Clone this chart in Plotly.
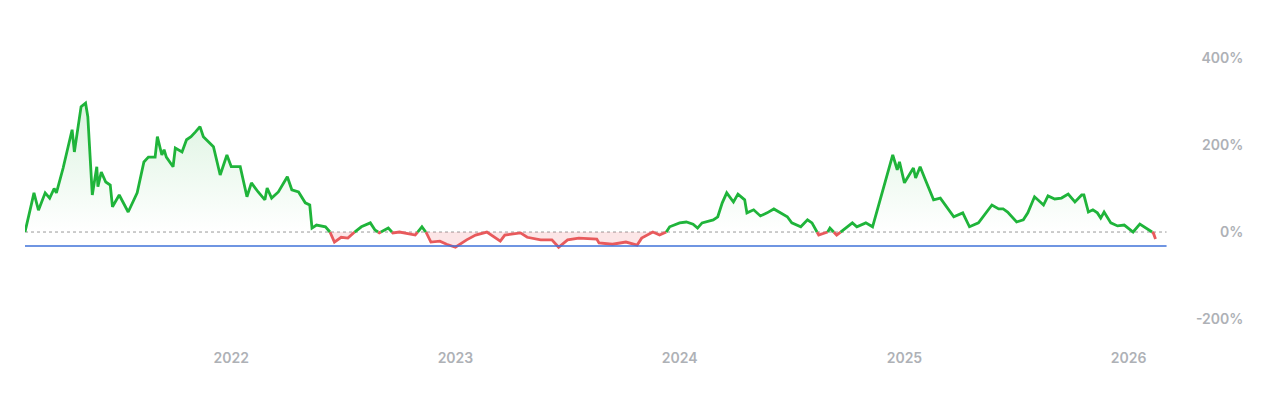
import pandas as pd
import numpy as np
import plotly.graph_objects as go

years = [2021.08, 2021.09, 2021.11, 2021.12, 2021.14, 2021.17, 2021.19, 2021.21, 2021.22, 2021.25,
         2021.29, 2021.30, 2021.33, 2021.35, 2021.36, 2021.38, 2021.40, 2021.405, 2021.42, 2021.44,
         2021.46, 2021.47, 2021.50, 2021.54, 2021.58, 2021.61, 2021.63, 2021.66, 2021.67, 2021.69,
         2021.70, 2021.71, 2021.74, 2021.75, 2021.78, 2021.80, 2021.82, 2021.84, 2021.86, 2021.875,
         2021.89, 2021.92, 2021.95, 2021.98, 2022.00, 2022.04, 2022.07, 2022.09, 2022.12, 2022.15,
         2022.16, 2022.18, 2022.21, 2022.25, 2022.27, 2022.30, 2022.33, 2022.35, 2022.36, 2022.38,
         2022.42, 2022.44, 2022.46, 2022.49, 2022.52, 2022.55, 2022.58, 2022.62, 2022.64, 2022.66,
         2022.70, 2022.72, 2022.75, 2022.79, 2022.82, 2022.85, 2022.87, 2022.89, 2022.93, 2022.96,
         2023.00, 2023.05, 2023.09, 2023.14, 2023.20, 2023.22, 2023.29, 2023.32, 2023.38, 2023.43,
         2023.46, 2023.50, 2023.55, 2023.63, 2023.64, 2023.70, 2023.76, 2023.81, 2023.83, 2023.88,
         2023.91, 2023.94, 2023.955, 2024.00, 2024.03, 2024.06, 2024.08, 2024.10, 2024.15, 2024.17,
         2024.19, 2024.21, 2024.24, 2024.26, 2024.29, 2024.30, 2024.33, 2024.36, 2024.39, 2024.42,
         2024.45, 2024.48, 2024.50, 2024.54, 2024.57, 2024.59, 2024.62, 2024.66, 2024.67, 2024.70,
         2024.73, 2024.77, 2024.79, 2024.83, 2024.86, 2024.89, 2024.92, 2024.95, 2024.97, 2024.98,
         2025.00, 2025.02, 2025.04, 2025.05, 2025.07, 2025.09, 2025.13, 2025.16, 2025.19, 2025.22,
         2025.26, 2025.29, 2025.33, 2025.35, 2025.39, 2025.42, 2025.44, 2025.46, 2025.50, 2025.53,
         2025.55, 2025.58, 2025.62, 2025.64, 2025.67, 2025.70, 2025.73, 2025.76, 2025.79, 2025.80,
         2025.82, 2025.84, 2025.86, 2025.875, 2025.89, 2025.92, 2025.95, 2025.98, 2026.02, 2026.05,
         2026.08, 2026.11, 2026.12]
change = [0, 20, 67, 90, 50, 90, 78, 100, 90, 147,
          235, 184, 288, 296, 265, 85, 150, 104, 138, 115,
          108, 58, 85, 46, 90, 161, 172, 172, 219, 177,
          189, 172, 150, 193, 184, 212, 219, 230, 242, 219,
          212, 196, 131, 177, 150, 150, 81, 113, 92, 74,
          101, 78, 92, 127, 97, 92, 67, 62, 9, 16,
          12, 0, -23, -12, -14, 0, 12, 21, 5, -2,
          9, -2, 0, -5, -7, 12, -2, -23, -21, -28,
          -35, -18, -7, 0, -21, -7, -2, -12, -18, -18,
          -35, -18, -14, -16, -25, -28, -23, -30, -14, 0,
          -7, 0, 12, 21, 23, 18, 9, 21, 28, 35,
          67, 90, 69, 87, 74, 44, 51, 37, 44, 53,
          44, 35, 21, 12, 28, 21, -7, 0, 9, -7,
          5, 21, 12, 21, 12, 67, 120, 177, 143, 161,
          113, 131, 147, 124, 150, 124, 74, 78, 55, 35,
          44, 12, 21, 35, 62, 53, 53, 46, 23, 28,
          44, 81, 62, 83, 76, 78, 87, 69, 85, 85,
          46, 51, 44, 32, 46, 21, 14, 16, 0, 18,
          9, -2, -16]
low_line = -32

GREEN = "#1fb43a"
RED = "#e85a5c"


def to_date(y):
    base = pd.Timestamp(int(y), 1, 1)
    return base + pd.Timedelta(days=(y - int(y)) * 365.25)


# insert zero crossings so the colour switches exactly at 0%
xs, vs = [], []
for i, (y, v) in enumerate(zip(years, change)):
    if i > 0:
        y0, v0 = years[i - 1], change[i - 1]
        if (v0 > 0 and v < 0) or (v0 < 0 and v > 0):
            xs.append(y0 + (y - y0) * v0 / (v0 - v))
            vs.append(0)
    xs.append(y)
    vs.append(v)
dates = [to_date(y) for y in xs]
vs = np.array(vs, dtype=float)

pos_line = [v if v >= 0 else None for v in vs]
neg_line = [v if v <= 0 else None for v in vs]

fig = go.Figure()
fig.add_trace(go.Scatter(x=dates, y=np.maximum(vs, 0), mode="lines", line=dict(width=0),
                         fill="tozeroy",
                         fillgradient=dict(type="vertical", start=0, stop=300,
                                           colorscale=[[0, "rgba(31,180,58,0.0)"],
                                                       [1, "rgba(31,180,58,0.16)"]]),
                         hoverinfo="skip"))
fig.add_trace(go.Scatter(x=dates, y=np.minimum(vs, 0), mode="lines", line=dict(width=0),
                         fill="tozeroy", fillcolor="rgba(232,90,92,0.15)", hoverinfo="skip"))
fig.add_trace(go.Scatter(x=dates, y=neg_line, mode="lines", line=dict(color=RED, width=2.8)))
fig.add_trace(go.Scatter(x=dates, y=pos_line, mode="lines", line=dict(color=GREEN, width=2.8)))

x0, x1 = to_date(2021.08), to_date(2026.17)
fig.add_shape(type="line", x0=x0, x1=x1, y0=0, y1=0, xref="x", yref="y",
              line=dict(color="#999999", width=1, dash="dot"), layer="below")
fig.add_shape(type="line", x0=x0, x1=x1, y0=low_line, y1=low_line, xref="x", yref="y",
              line=dict(color="#3f72d8", width=1.5), layer="above")

tick_font = dict(size=14, color="#aeb1b6", weight=600)
fig.update_layout(
    width=1280, height=416, showlegend=False,
    plot_bgcolor="white", paper_bgcolor="white",
    margin=dict(l=17, r=0, t=12, b=84),
    font=dict(family="Inter, Lato, sans-serif"),
    xaxis=dict(range=[x0, x1], domain=[0, 0.904], showgrid=False, zeroline=False,
               tickvals=[pd.Timestamp(y, 1, 1) for y in [2022, 2023, 2024, 2025, 2026]],
               ticktext=["2022", "2023", "2024", "2025", "2026"],
               tickfont=tick_font, ticklabelstandoff=8),
    yaxis=dict(range=[-248, 487], side="right", anchor="free", position=0.967,
               showgrid=False, zeroline=False, ticklabelposition="inside",
               tickvals=[-200, 0, 200, 400], ticktext=["-200%", "0%", "200%", "400%"],
               tickfont=tick_font),
)

fig.write_html("out.html")
